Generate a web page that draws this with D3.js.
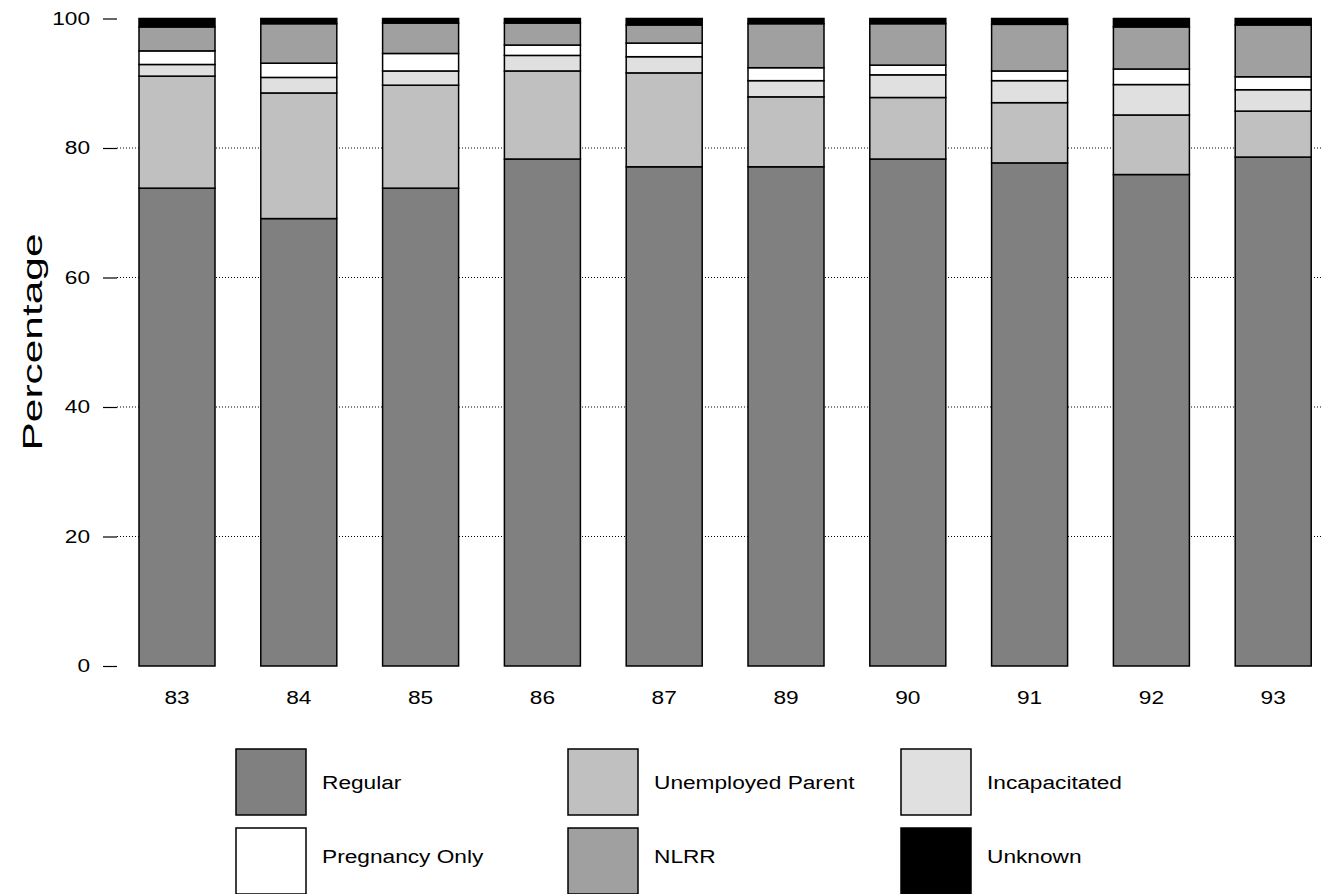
<!DOCTYPE html>
<html>
<head>
<meta charset="utf-8">
<script src="https://cdn.jsdelivr.net/npm/d3@7"></script>
<style>
  body { margin: 0; background: #fff; }
  svg { display: block; font-family: "Liberation Sans", Arial, sans-serif; }
</style>
</head>
<body>
<svg id="chart" width="1323" height="894"></svg>
<script>
const years = ["83", "84", "85", "86", "87", "89", "90", "91", "92", "93"];
const seriesNames = ["Regular", "Unemployed Parent", "Incapacitated", "Pregnancy Only", "NLRR", "Unknown"];
const seriesColors = ["#808080", "#c0c0c0", "#e0e0e0", "#ffffff", "#a0a0a0", "#000000"];
const regular      = [73.8, 69.1, 73.8, 78.3, 77.1, 77.1, 78.3, 77.7, 75.9, 78.6];
const unemployed   = [17.3, 19.4, 15.9, 13.6, 14.5, 10.8,  9.5,  9.3,  9.2,  7.1];
const incapacitated= [ 1.8,  2.4,  2.2,  2.4,  2.5,  2.5,  3.5,  3.4,  4.7,  3.3];
const pregnancy    = [ 2.1,  2.2,  2.7,  1.6,  2.1,  2.0,  1.5,  1.5,  2.4,  2.0];
const nlrr         = [ 3.7,  6.1,  4.7,  3.4,  2.8,  6.8,  6.4,  7.2,  6.5,  8.0];
const unknown      = [ 1.3,  0.8,  0.7,  0.7,  1.0,  0.8,  0.8,  0.9,  1.3,  1.0];
const yTicks = [0, 20, 40, 60, 80, 100];
const gridTicks = [20, 40, 60, 80];

const seriesValues = [regular, unemployed, incapacitated, pregnancy, nlrr, unknown];
const rows = years.map((y, i) => {
  const r = { year: y };
  seriesNames.forEach((s, k) => r[s] = seriesValues[k][i]);
  return r;
});

function stretch(sel, factor) {
  sel.each(function() {
    const len = this.getComputedTextLength();
    d3.select(this).attr("textLength", len * factor).attr("lengthAdjust", "spacingAndGlyphs");
  });
}

const svg = d3.select("#chart");
const x = d3.scaleBand().domain(years).range([139, 1311.2]).paddingInner(0.376).paddingOuter(0);
const y = d3.scaleLinear().domain([0, 100]).range([666, 18.5]);
const color = d3.scaleOrdinal().domain(seriesNames).range(seriesColors);

// gridlines
svg.append("g").selectAll("line").data(gridTicks).join("line")
  .attr("x1", 117).attr("x2", 1323)
  .attr("y1", d => y(d)).attr("y2", d => y(d))
  .attr("stroke", "#000").attr("stroke-width", 1)
  .attr("stroke-dasharray", "1,2");

// y axis (ticks only, no domain line)
const yAxis = d3.axisLeft(y).tickValues(yTicks).tickSize(14).tickPadding(13);
const gy = svg.append("g").attr("transform", "translate(117,0)").call(yAxis);
gy.select(".domain").remove();
gy.selectAll(".tick line").attr("stroke", "#000").attr("stroke-width", 1.2);
gy.selectAll(".tick text").attr("font-size", 18).attr("fill", "#000")
  .attr("font-family", "'Liberation Sans', Arial, sans-serif");
stretch(gy.selectAll(".tick text"), 1.26);

// x axis labels
const xAxis = d3.axisBottom(x).tickSize(0).tickPadding(0);
const gx = svg.append("g").attr("transform", "translate(0,691)").call(xAxis);
gx.select(".domain").remove();
gx.selectAll(".tick text").attr("font-size", 18).attr("fill", "#000")
  .attr("font-family", "'Liberation Sans', Arial, sans-serif");
stretch(gx.selectAll(".tick text"), 1.26);

// stacked bars
const stack = d3.stack().keys(seriesNames);
const layers = stack(rows);
svg.append("g").selectAll("g").data(layers).join("g")
  .attr("fill", d => color(d.key))
  .selectAll("rect").data(d => d).join("rect")
  .attr("x", d => x(d.data.year))
  .attr("width", x.bandwidth())
  .attr("y", d => y(Math.min(d[1], 100)))
  .attr("height", d => y(d[0]) - y(Math.min(d[1], 100)))
  .attr("stroke", "#000").attr("stroke-width", 1.5);

// y label
const yl = svg.append("text")
  .attr("transform", "translate(42,342) rotate(-90)")
  .attr("text-anchor", "middle")
  .attr("font-size", 28)
  .attr("fill", "#000")
  .text("Percentage");
yl.attr("textLength", 217).attr("lengthAdjust", "spacingAndGlyphs");

// legend
const legendCols = [236, 568, 901];
const legendRows = [749, 828];
const legendTextY = [783, 857];
const lg = svg.append("g");
seriesNames.forEach((s, i) => {
  const cx = legendCols[i % 3];
  const r = Math.floor(i / 3);
  lg.append("rect").attr("x", cx).attr("y", legendRows[r]).attr("width", 70).attr("height", 66)
    .attr("fill", color(s)).attr("stroke", "#000").attr("stroke-width", 1.5);
  lg.append("text").attr("x", cx + 86).attr("y", legendTextY[r]).attr("dy", "0.35em")
    .attr("font-size", 18).attr("fill", "#000").text(s);
});
stretch(lg.selectAll("text"), 1.26);
</script>
</body>
</html>
